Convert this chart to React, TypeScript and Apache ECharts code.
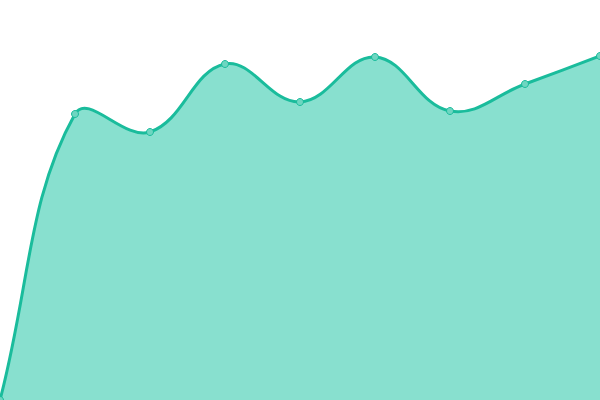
import React, { useEffect, useRef } from "react";
import * as echarts from "echarts";

const categories = ["1", "2", "3", "4", "5", "6", "7", "8", "9"];
const values = [0, 286, 268, 336, 298, 343, 289, 316, 344];
const TENSION = 0.4;

function splinePath(pts: number[][], top: number, bottom: number) {
  const n = pts.length;
  const cps: { prev: number[]; next: number[] }[] = [];
  for (let i = 0; i < n; i++) {
    const p0 = pts[i - 1] || pts[i];
    const p1 = pts[i];
    const p2 = pts[i + 1] || pts[i];
    const d01 = Math.hypot(p1[0] - p0[0], p1[1] - p0[1]);
    const d12 = Math.hypot(p2[0] - p1[0], p2[1] - p1[1]);
    let s01 = d01 / (d01 + d12);
    let s12 = d12 / (d01 + d12);
    if (isNaN(s01)) s01 = 0;
    if (isNaN(s12)) s12 = 0;
    const fa = TENSION * s01;
    const fb = TENSION * s12;
    const clampY = (y: number) => Math.max(top, Math.min(bottom, y));
    cps.push({
      prev: [p1[0] - fa * (p2[0] - p0[0]), clampY(p1[1] - fa * (p2[1] - p0[1]))],
      next: [p1[0] + fb * (p2[0] - p0[0]), clampY(p1[1] + fb * (p2[1] - p0[1]))],
    });
  }
  let d = `M${pts[0][0]},${pts[0][1]}`;
  for (let i = 1; i < n; i++) {
    const a = cps[i - 1].next;
    const b = cps[i].prev;
    d += ` C${a[0]},${a[1]} ${b[0]},${b[1]} ${pts[i][0]},${pts[i][1]}`;
  }
  return d;
}

export default function App() {
  const ref = useRef<HTMLDivElement>(null);
  useEffect(() => {
    if (!ref.current) return;
    const chart = echarts.init(ref.current, undefined, { renderer: "svg" });
    const data = values.map((v, i) => [i, v]);
    chart.setOption({
      animation: false,
      grid: { left: 0, right: 0, top: 0, bottom: 0 },
      xAxis: { type: "category", data: categories, boundaryGap: false, show: false },
      yAxis: { type: "value", min: 0, max: 400, show: false },
      series: [
        {
          type: "custom",
          data,
          encode: { x: 0, y: 1 },
          clip: true,
          renderItem: (params: any, api: any) => {
            if (params.dataIndex !== 0) return null;
            const pts = values.map((v, i) => api.coord([i, v]));
            const top = api.coord([0, 400])[1];
            const base = api.coord([0, 0])[1];
            const line = splinePath(pts, top, base);
            const area =
              line +
              ` L${pts[pts.length - 1][0]},${base} L${pts[0][0]},${base} Z`;
            return {
              type: "group",
              children: [
                { type: "path", shape: { pathData: area }, style: { fill: "#88e0cf", stroke: null } },
                {
                  type: "path",
                  shape: { pathData: line },
                  style: { fill: null, stroke: "#1abc9c", lineWidth: 3 },
                },
              ],
            };
          },
        },
        {
          type: "scatter",
          data,
          symbol: "circle",
          symbolSize: 7,
          clip: true,
          z: 5,
          itemStyle: { color: "#6ed6c1", borderColor: "#1abc9c", borderWidth: 1, opacity: 1 },
        },
      ],
    });
    return () => chart.dispose();
  }, []);
  return (
    <div
      ref={ref}
      style={{ position: "fixed", left: 0, top: 0, width: 600, height: 400, background: "#fff" }}
    />
  );
}
